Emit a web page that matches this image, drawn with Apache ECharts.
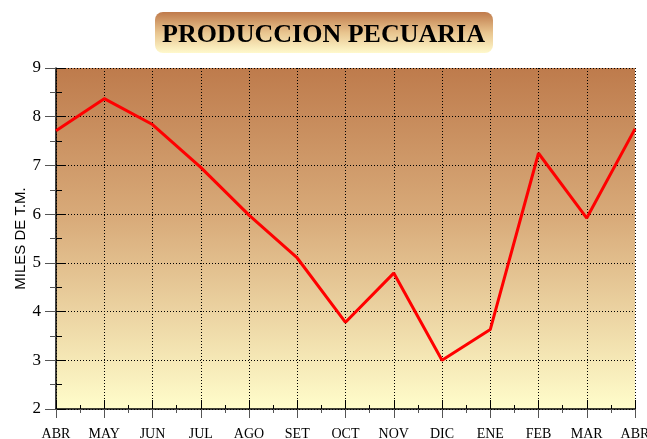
<!DOCTYPE html>
<html><head><meta charset="utf-8">
<script src="https://cdn.jsdelivr.net/npm/echarts@6/dist/echarts.min.js"></script>
<style>html,body{margin:0;padding:0;background:#fff}#c{width:647px;height:439px}</style>
</head><body><div id="c"></div>
<script>
const titleText = 'PRODUCCION PECUARIA';
const yAxisName = 'MILES DE T.M.';
const months = ['ABR','MAY','JUN','JUL','AGO','SET','OCT','NOV','DIC','ENE','FEB','MAR','ABR'];
const values = [7.71, 8.37, 7.84, 6.96, 5.98, 5.10, 3.78, 4.79, 3.00, 3.63, 7.25, 5.92, 7.75];
const yMin = 2, yMax = 9, yStep = 1;

const chart = echarts.init(document.getElementById('c'), null, {renderer:'canvas'});
const bgGrad = new echarts.graphic.LinearGradient(0,0,0,1,[
  {offset:0, color:'#BE7B4C'},
  {offset:0.45, color:'#D9AC7B'},
  {offset:1, color:'#FFFDCB'}
]);
const titleGrad = new echarts.graphic.LinearGradient(0,0,0,1,[
  {offset:0, color:'#BF7A4B'},
  {offset:0.5, color:'#E8C48E'},
  {offset:1, color:'#FFF9CC'}
]);
const hidden = {show:false};
chart.setOption({
  animation:false,
  graphic:[{
    type:'rect', left:155, top:12, z:0,
    shape:{width:338, height:41, r:8},
    style:{fill:titleGrad}
  }],
  title:{
    text:titleText, left:'center', top:17,
    textStyle:{fontFamily:'Liberation Serif', fontWeight:'bold', fontSize:26, color:'#000'}
  },
  grid:{show:true, backgroundColor:bgGrad, borderWidth:0,
        left:56, right:12, top:68, bottom:30, containLabel:false, outerBoundsMode:'none'},
  xAxis:[{
    type:'category', data:months, boundaryGap:false, position:'bottom',
    axisLine:{lineStyle:{color:'#000', width:1.5}},
    axisTick:{show:false},
    axisLabel:{fontFamily:'Liberation Serif', fontSize:14, color:'#000', margin:18},
    splitLine:{show:true, lineStyle:{color:'#000', type:[1,2], width:1}}
  },{
    type:'value', min:0, max:months.length-1, interval:1, position:'bottom', offset:0,
    axisLine:hidden, axisLabel:hidden, splitLine:hidden,
    axisTick:{show:true, inside:true, length:9, lineStyle:{color:'#000'}},
    minorTick:{show:true, splitNumber:2, length:4, lineStyle:{color:'#000'}}
  },{
    type:'value', min:0, max:months.length-1, interval:1, position:'bottom', offset:0,
    axisLine:hidden, axisLabel:hidden, splitLine:hidden,
    axisTick:{show:true, inside:false, length:9, lineStyle:{color:'#555'}},
    minorTick:{show:true, splitNumber:2, length:4, lineStyle:{color:'#555'}}
  }],
  yAxis:[{
    type:'value', min:yMin, max:yMax, interval:yStep, position:'left',
    name:yAxisName, nameLocation:'middle', nameGap:28, nameRotate:90, nameMoveOverlap:false,
    nameTextStyle:{fontFamily:'Liberation Sans', fontSize:15, color:'#000'},
    axisLine:{show:true, lineStyle:{color:'#000', width:1.5}},
    axisTick:{show:true, inside:false, length:11, lineStyle:{color:'#555'}},
    minorTick:{show:true, splitNumber:2, length:6, lineStyle:{color:'#555'}},
    axisLabel:{fontFamily:'Liberation Serif', fontSize:17, color:'#000', margin:15},
    splitLine:{show:true, lineStyle:{color:'#000', type:[1,2], width:1}}
  },{
    type:'value', min:yMin, max:yMax, interval:yStep, position:'left', offset:0,
    axisLine:hidden, axisLabel:hidden, splitLine:hidden,
    axisTick:{show:true, inside:true, length:10, lineStyle:{color:'#000'}},
    minorTick:{show:true, splitNumber:2, length:6, lineStyle:{color:'#000'}}
  }],
  series:[{
    type:'line', data:values, xAxisIndex:0, yAxisIndex:0,
    showSymbol:false, symbol:'none',
    lineStyle:{color:'#FF0000', width:3}, z:5
  }]
});
</script></body></html>
